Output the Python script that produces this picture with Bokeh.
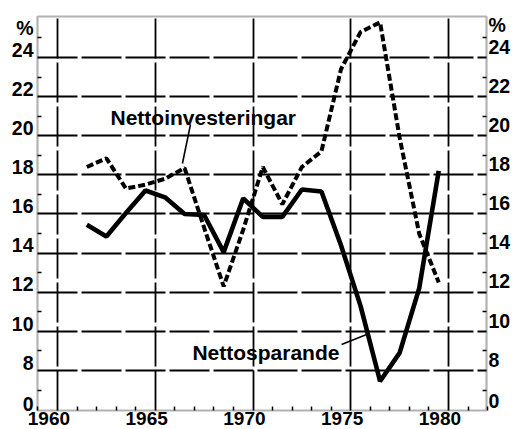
from bokeh.plotting import figure
from bokeh.models import Range1d, FixedTicker, LinearAxis, Grid, BoxAnnotation, Label
from bokeh.embed import file_html
from bokeh.resources import INLINE

# ---- data (annual values, plotted at mid-year) ----
years = [1961, 1962, 1963, 1964, 1965, 1966, 1967, 1968, 1969, 1970,
         1971, 1972, 1973, 1974, 1975, 1976, 1977, 1978, 1979]
nettosparande = [15.45, 14.85, 16.05, 17.2, 16.85, 16.0, 15.95, 14.05, 16.8, 15.85,
                 15.85, 17.25, 17.15, 14.4, 11.3, 7.45, 8.9, 12.2, 18.2]
nettoinvesteringar = [18.4, 18.85, 17.3, 17.5, 17.8, 18.35, 15.3, 12.3, 15.2, 18.4,
                      16.5, 18.4, 19.2, 23.4, 25.3, 25.8, 19.9, 15.0, 12.5]

x_grid_years = [1960, 1965, 1970, 1975, 1980]
x_tick_labels = ["1960", "1965", "1970", "1975", "1980"]
x_minor_years = [y for y in range(1959, 1983) if y % 5 != 0]

y_grid_values = [8, 10, 12, 14, 16, 18, 20, 22, 24]
y_label_values = [5.9, 8, 10, 12, 14, 16, 18, 20, 22, 24, 25.1]
y_tick_labels = ["0", "8", "10", "12", "14", "16", "18", "20", "22", "24", "%"]
y_minor_values = [7, 9, 11, 13, 15, 17, 19, 21, 23, 25]

annot_text = ["Nettoinvesteringar", "Nettosparande"]
annot_x = [1962.71, 1966.9]
annot_y = [20.93, 8.92]
leader_x0 = [1966.8, 1974.53]
leader_y0 = [20.57, 9.33]
leader_x1 = [1966.39, 1975.81]
leader_y1 = [18.58, 9.84]

# ---- layout / style constants ----
BOX_L, BOX_R, BOX_B, BOX_T = 1958.977, 1981.944, 5.953, 26.096
X_START, X_END = 1957.084, 1983.478
Y_START, Y_END = 4.982, 26.914
LEFT_RAISE, RIGHT_RAISE, X_SHIFT = 0.4, 0.55, -0.44
TICK_FONT = "Liberation Sans"

p = figure(width=516, height=429, output_backend="svg", toolbar_location=None,
           x_range=Range1d(X_START, X_END), y_range=Range1d(Y_START, Y_END),
           x_axis_type=None, y_axis_type=None, min_border=0,
           min_border_left=0, min_border_right=0, min_border_top=0, min_border_bottom=0)
p.outline_line_color = None
p.background_fill_color = "white"
p.border_fill_color = "white"

# grids
gx = Grid(dimension=0, ticker=FixedTicker(ticks=x_grid_years),
          grid_line_color="black", grid_line_width=1.8, grid_line_dash="40 4",
          cross_bounds=(BOX_B, BOX_T))
gy = Grid(dimension=1, ticker=FixedTicker(ticks=y_grid_values),
          grid_line_color="black", grid_line_width=1.8, grid_line_dash="40 4",
          cross_bounds=(BOX_L, BOX_R))
p.add_layout(gx)
p.add_layout(gy)

# frame box
p.add_layout(BoxAnnotation(left=BOX_L, right=BOX_R, bottom=BOX_B, top=BOX_T,
                           fill_alpha=0, line_color="black", line_width=2.2))

def style_axis(ax, standoff, size):
    ax.axis_line_color = None
    ax.major_tick_line_color = None
    ax.major_tick_in = 0
    ax.major_tick_out = 0
    ax.minor_tick_line_color = "black"
    ax.minor_tick_line_width = 1.5
    ax.minor_tick_in = 4
    ax.minor_tick_out = 0
    ax.major_label_text_font = TICK_FONT
    ax.major_label_text_font_style = "bold"
    ax.major_label_text_font_size = size
    ax.major_label_text_color = "black"
    ax.major_label_standoff = standoff

left_pos = [v + LEFT_RAISE for v in y_label_values]
left_ax = LinearAxis(fixed_location=BOX_L,
                     ticker=FixedTicker(ticks=left_pos, minor_ticks=y_minor_values),
                     major_label_overrides={k: t for k, t in zip(left_pos, y_tick_labels)})
style_axis(left_ax, 4, "19.5px")
p.add_layout(left_ax, "left")

right_pos = [v + RIGHT_RAISE for v in y_label_values]
right_ax = LinearAxis(fixed_location=BOX_R,
                      ticker=FixedTicker(ticks=right_pos, minor_ticks=y_minor_values),
                      major_label_overrides={k: t for k, t in zip(right_pos, y_tick_labels)})
style_axis(right_ax, 2, "19.5px")
p.add_layout(right_ax, "right")

bottom_pos = [v + X_SHIFT for v in x_grid_years]
bottom_ax = LinearAxis(fixed_location=BOX_B,
                       ticker=FixedTicker(ticks=bottom_pos, minor_ticks=x_minor_years),
                       major_label_overrides={k: t for k, t in zip(bottom_pos, x_tick_labels)})
style_axis(bottom_ax, 1, "19px")
p.add_layout(bottom_ax, "below")

# series
x_mid = [y + 0.5 for y in years]
p.line(x_mid, nettoinvesteringar, line_color="black", line_width=4.0, line_dash="7 3")
p.line(x_mid, nettosparande, line_color="black", line_width=4.6)

# leaders and annotations
p.segment(x0=leader_x0, y0=leader_y0, x1=leader_x1, y1=leader_y1,
          line_color="black", line_width=1.6)
for t, x, y in zip(annot_text, annot_x, annot_y):
    p.add_layout(Label(x=x, y=y, text=t, text_font="Liberation Sans",
                       text_font_style="bold", text_font_size="21px",
                       text_color="black",
                       text_baseline="alphabetic", text_align="left"))

open("out.html", "w").write(file_html(p, INLINE))
